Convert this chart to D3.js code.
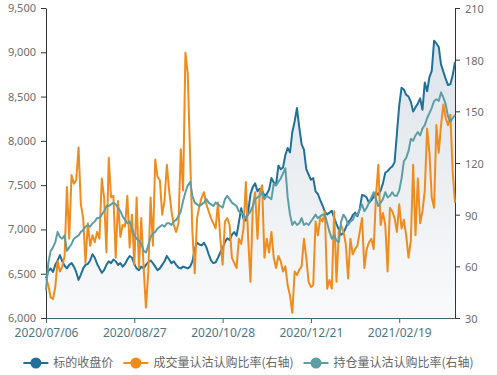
<!DOCTYPE html>
<html lang="zh">
<head>
<meta charset="UTF-8">
<title>标的收盘价与认沽认购比率</title>
<script src="https://d3js.org/d3.v7.min.js"></script>
<style>
  body { margin: 0; background: #fff; }
  svg text { font-family: "Noto Sans CJK SC", "Noto Sans", sans-serif; }
  .axis text { font-family: "Noto Sans", sans-serif; font-size: 11px; fill: #6e6e6e; }
  .axis path, .axis line { stroke: #333; }
  .xaxis text { font-size: 12px; fill: #4d7683; }
  .xaxis path, .xaxis line { stroke: #3d6470; }
  .line { fill: none; stroke-width: 2px; stroke-linejoin: round; }
  .legend text { font-size: 12px; fill: #666; }
</style>
</head>
<body>
<svg width="497" height="375"></svg>
<script>
const dates = [
  "2020/07/06","2020/07/07","2020/07/08","2020/07/09","2020/07/10","2020/07/13","2020/07/14","2020/07/15","2020/07/16","2020/07/17",
  "2020/07/20","2020/07/21","2020/07/22","2020/07/23","2020/07/24","2020/07/27","2020/07/28","2020/07/29","2020/07/30","2020/07/31",
  "2020/08/03","2020/08/04","2020/08/05","2020/08/06","2020/08/07","2020/08/10","2020/08/11","2020/08/12","2020/08/13","2020/08/14",
  "2020/08/17","2020/08/18","2020/08/19","2020/08/20","2020/08/21","2020/08/24","2020/08/25","2020/08/26","2020/08/27","2020/08/28",
  "2020/08/31","2020/09/01","2020/09/02","2020/09/03","2020/09/04","2020/09/07","2020/09/08","2020/09/09","2020/09/10","2020/09/11",
  "2020/09/14","2020/09/15","2020/09/16","2020/09/17","2020/09/18","2020/09/21","2020/09/22","2020/09/23","2020/09/24","2020/09/25",
  "2020/09/28","2020/09/29","2020/09/30","2020/10/09","2020/10/12","2020/10/13","2020/10/14","2020/10/15","2020/10/16","2020/10/19",
  "2020/10/20","2020/10/21","2020/10/22","2020/10/23","2020/10/26","2020/10/27","2020/10/28","2020/10/29","2020/10/30","2020/11/02",
  "2020/11/03","2020/11/04","2020/11/05","2020/11/06","2020/11/09","2020/11/10","2020/11/11","2020/11/12","2020/11/13","2020/11/16",
  "2020/11/17","2020/11/18","2020/11/19","2020/11/20","2020/11/23","2020/11/24","2020/11/25","2020/11/26","2020/11/27","2020/11/30",
  "2020/12/01","2020/12/02","2020/12/03","2020/12/04","2020/12/07","2020/12/08","2020/12/09","2020/12/10","2020/12/11","2020/12/14",
  "2020/12/15","2020/12/16","2020/12/17","2020/12/18","2020/12/21","2020/12/22","2020/12/23","2020/12/24","2020/12/25","2020/12/28",
  "2020/12/29","2020/12/30","2020/12/31","2021/01/04","2021/01/05","2021/01/06","2021/01/07","2021/01/08","2021/01/11","2021/01/12",
  "2021/01/13","2021/01/14","2021/01/15","2021/01/18","2021/01/19","2021/01/20","2021/01/21","2021/01/22","2021/01/25","2021/01/26",
  "2021/01/27","2021/01/28","2021/01/29","2021/02/01","2021/02/02","2021/02/03","2021/02/04","2021/02/05","2021/02/08","2021/02/09",
  "2021/02/10","2021/02/18","2021/02/19","2021/02/22","2021/02/23","2021/02/24","2021/02/25","2021/02/26","2021/03/01","2021/03/02",
  "2021/03/03","2021/03/04","2021/03/05","2021/03/08","2021/03/09","2021/03/10","2021/03/11","2021/03/12","2021/03/15","2021/03/16",
  "2021/03/17","2021/03/18","2021/03/19","2021/03/22","2021/03/23","2021/03/24","2021/03/25"
];

// 标的收盘价 (左轴)
const closePrice = [
  6450,6530,6560,6520,6600,6650,6710,6640,6590,6560,
  6600,6620,6580,6520,6430,6490,6560,6600,6610,6650,
  6720,6680,6610,6560,6510,6540,6600,6640,6620,6660,
  6640,6600,6620,6580,6610,6660,6700,6680,6610,6560,
  6540,6580,6560,6600,6630,6650,6620,6580,6540,6560,
  6600,6640,6700,6660,6620,6640,6600,6570,6560,6580,
  6570,6560,6580,6640,6780,6850,6830,6820,6850,6800,
  6720,6650,6620,6630,6680,6740,6790,6860,6900,6880,
  6940,6970,6930,7080,7240,7120,7100,7200,7400,7480,
  7520,7430,7460,7440,7380,7400,7450,7580,7530,7500,
  7720,7680,7700,7840,7920,7870,8100,8220,8370,8150,
  7960,7900,7680,7620,7560,7580,7430,7400,7330,7270,
  7200,7170,7190,7210,7130,7060,7000,6940,6960,7020,
  7080,7110,7160,7190,7150,7230,7390,7380,7360,7300,
  7330,7370,7420,7390,7440,7520,7640,7660,7690,7710,
  7760,8080,8400,8600,8580,8520,8500,8440,8330,8380,
  8420,8480,8350,8660,8560,8720,8790,9130,9100,9060,
  8860,8780,8700,8630,8640,8740,8890
];

// 成交量认沽认购比率 (右轴)
const volumeRatio = [
  53,49,42,41,48,63,57,60,66,106,
  76,113,108,110,129,96,88,62,85,72,
  78,74,80,76,111,100,68,123,100,101,
  65,98,77,84,83,101,71,90,61,100,
  59,88,60,36,56,100,72,122,112,110,
  90,98,119,104,92,84,80,85,128,104,
  184,172,125,80,56,88,95,100,103,96,
  92,88,85,82,97,76,61,86,88,84,
  65,62,59,76,73,82,109,76,51,95,
  103,76,103,107,65,76,68,80,65,59,
  66,63,57,60,49,43,33,57,55,58,
  60,76,65,51,48,49,86,78,88,86,
  92,47,52,47,92,51,80,84,80,73,
  53,76,67,70,72,80,88,59,70,74,
  76,70,101,119,84,91,84,57,94,92,
  88,80,96,82,87,78,65,75,119,78,
  111,85,92,104,140,126,100,94,142,126,
  142,154,146,142,148,115,97
];

// 持仓量认沽认购比率 (右轴)
const oiRatio = [
  46,62,69,71,74,80,77,76,78,69,
  71,73,76,77,78,80,81,83,84,83,
  85,86,88,88,90,92,95,95,96,97,
  96,94,92,89,87,85,86,82,78,76,
  75,73,69,68,72,77,79,80,82,83,
  84,83,85,85,84,86,87,89,92,98,
  103,107,109,101,97,96,95,96,97,99,
  97,96,95,97,96,95,94,99,101,99,
  97,96,95,92,91,90,88,90,92,95,
  99,100,101,103,99,101,100,99,108,107,
  109,111,114,117,100,90,84,86,84,85,
  88,84,85,84,86,88,90,88,89,90,
  90,85,80,76,78,75,74,86,90,88,
  84,86,87,90,90,93,96,92,94,97,
  100,103,99,95,97,99,103,100,101,103,
  101,101,104,111,121,123,127,134,133,136,
  138,136,140,142,146,149,152,156,157,156,
  161,158,154,147,144,146,148
];

const tickLabels = ["2020/07/06", "2020/08/27", "2020/10/28", "2020/12/21", "2021/02/19"];
const leftTicks = [6000, 6500, 7000, 7500, 8000, 8500, 9000, 9500];
const rightTicks = [30, 60, 90, 120, 150, 180, 210];
const seriesNames = ["标的收盘价", "成交量认沽认购比率(右轴)", "持仓量认沽认购比率(右轴)"];
const colors = ["#21709a", "#f08b1d", "#5d9ea5"];

const svg = d3.select("svg");
const plotLeft = 46, plotRight = 455, plotTop = 8, plotBottom = 318;

const x = d3.scalePoint().domain(dates).range([plotLeft, plotRight]);
const yL = d3.scaleLinear().domain([6000, 9500]).range([plotBottom, plotTop]);
const yR = d3.scaleLinear().domain([30, 210]).range([plotBottom, plotTop]);

// 收盘价面积渐变
const grad = svg.append("defs").append("linearGradient")
  .attr("id", "areaGrad").attr("x1", 0).attr("y1", 0).attr("x2", 0).attr("y2", 1);
grad.append("stop").attr("offset", "0%").attr("stop-color", "#4a7698").attr("stop-opacity", 0.2);
grad.append("stop").attr("offset", "100%").attr("stop-color", "#6a7c90").attr("stop-opacity", 0.04);

const area = d3.area()
  .x((d, i) => x(dates[i]))
  .y0(plotBottom)
  .y1(d => yL(d));
svg.append("path").datum(closePrice).attr("d", area).attr("fill", "url(#areaGrad)");

// 坐标轴
svg.append("g").attr("class", "axis")
  .attr("transform", `translate(${plotLeft},0)`)
  .call(d3.axisLeft(yL).tickValues(leftTicks).tickFormat(d3.format(",")).tickSize(5).tickSizeOuter(0))
  .call(g => g.selectAll("text").attr("dx", "-2").attr("dy", "0.32em"));

svg.append("g").attr("class", "axis")
  .attr("transform", `translate(${plotRight},0)`)
  .call(d3.axisRight(yR).tickValues(rightTicks).tickSize(5).tickSizeOuter(0))
  .call(g => g.selectAll("text").attr("dx", "2").attr("dy", "0.4em"));

svg.append("g").attr("class", "axis xaxis")
  .attr("transform", `translate(0,${plotBottom})`)
  .call(d3.axisBottom(x).tickValues(tickLabels).tickSize(5).tickSizeOuter(0))
  .call(g => g.selectAll("text").attr("dy", "0.95em"));

// 折线
const lineL = d3.line().x((d, i) => x(dates[i])).y(d => yL(d));
const lineR = d3.line().x((d, i) => x(dates[i])).y(d => yR(d));

svg.append("path").datum(closePrice).attr("class", "line").attr("stroke", colors[0]).attr("d", lineL);
svg.append("path").datum(volumeRatio).attr("class", "line").attr("stroke", colors[1]).attr("d", lineR);
svg.append("path").datum(oiRatio).attr("class", "line").attr("stroke", colors[2]).attr("d", lineR);

// 图例
const legend = svg.append("g").attr("class", "legend");
const items = legend.selectAll("g").data(seriesNames).enter().append("g");
items.append("line").attr("x1", 0).attr("x2", 25).attr("y1", 0).attr("y2", 0)
  .attr("stroke", (d, i) => colors[i]).attr("stroke-width", 2);
items.append("circle").attr("cx", 12.5).attr("cy", 0).attr("r", 5.5)
  .attr("fill", (d, i) => colors[i]);
items.append("text").attr("x", 30).attr("dy", "0.35em").text(d => d);

let widths = [];
items.each(function() { widths.push(30 + d3.select(this).select("text").node().getComputedTextLength()); });
const gap = 10;
const total = d3.sum(widths) + gap * (widths.length - 1);
let cx = (497 - total) / 2;
items.attr("transform", (d, i) => {
  const t = `translate(${cx},363)`;
  cx += widths[i] + gap;
  return t;
});
</script>
</body>
</html>
